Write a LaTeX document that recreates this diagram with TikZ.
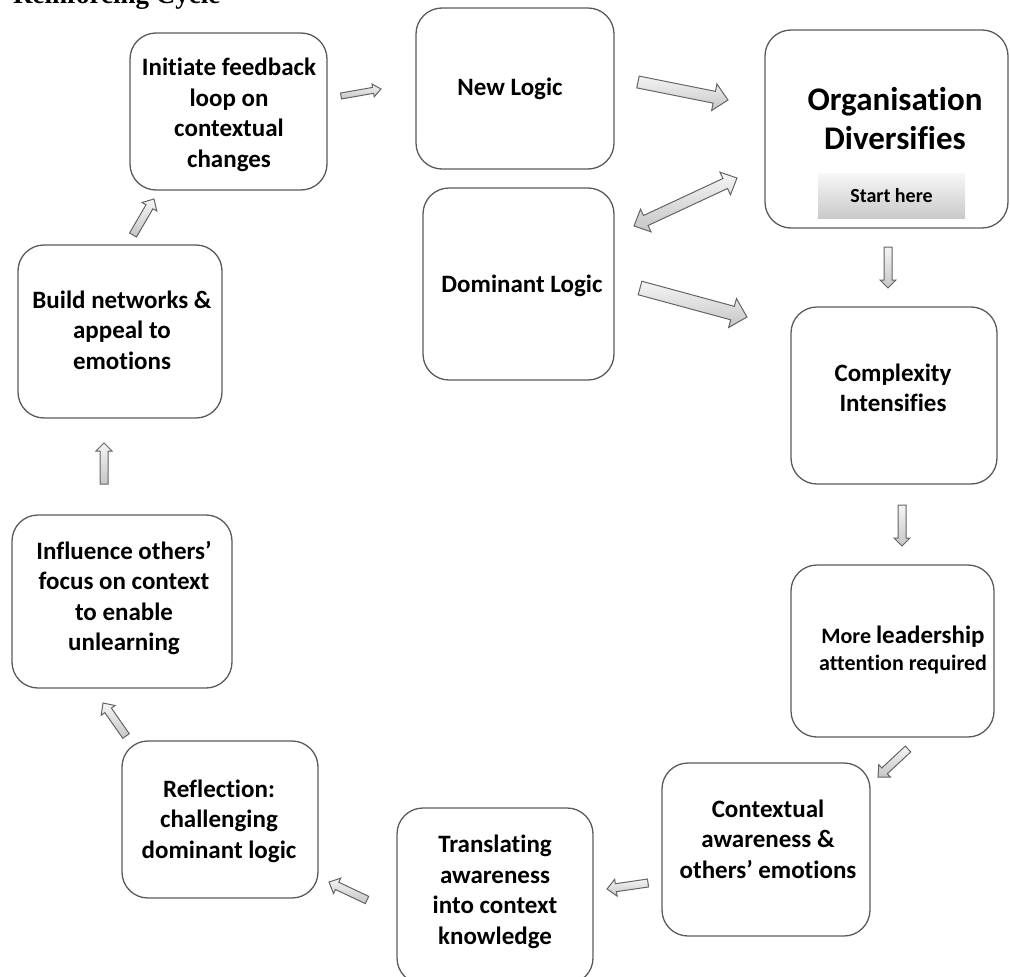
\documentclass[tikz,border=0pt]{standalone}
\usepackage{fontspec}
\setmainfont{Carlito}[Ligatures=CommonOff]
\newfontfamily\titlefont{Liberation Serif}
\usetikzlibrary{calc}
\definecolor{boxline}{HTML}{5A5A5A}
\definecolor{arrline}{HTML}{646464}
\tikzset{
  box/.style={draw=boxline, line width=1.3pt, rounded corners=26pt, align=center,
    font=\fontsize{25}{30.5}\selectfont\bfseries, inner sep=0pt},
  txt/.style={align=center, inner sep=0pt, font=\fontsize{25}{30.5}\selectfont\bfseries},
  barr/.style={draw=arrline, line width=1pt, top color=gray!8, bottom color=gray!45, line join=miter},
}
\newcommand\blockarrow[5]{%
  \coordinate (neck) at ($(#2)!#5!(#1)$);
  \draw[barr] ($(#1)!#3!90:(#2)$) -- ($(neck)!#3!90:(#2)$) -- ($(neck)!#4!90:(#2)$) -- (#2)
    -- ($(neck)!#4!-90:(#2)$) -- ($(neck)!#3!-90:(#2)$) -- ($(#1)!#3!-90:(#2)$) -- cycle;}
\newcommand\doublearrow[5]{%
  \coordinate (neckA) at ($(#1)!#5!(#2)$);
  \coordinate (neckB) at ($(#2)!#5!(#1)$);
  \draw[barr] (#1) -- ($(neckA)!#4!90:(#2)$) -- ($(neckA)!#3!90:(#2)$) -- ($(neckB)!#3!90:(#2)$)
    -- ($(neckB)!#4!90:(#2)$) -- (#2) -- ($(neckB)!#4!-90:(#2)$) -- ($(neckB)!#3!-90:(#2)$)
    -- ($(neckA)!#3!-90:(#2)$) -- ($(neckA)!#4!-90:(#2)$) -- cycle;}
\begin{document}
\begin{tikzpicture}[x=1pt, y=-1pt]
\useasboundingbox (0,0) rectangle (1010,977);

\node[anchor=base west, inner sep=0pt, font=\titlefont\bfseries\fontsize{27}{30}\selectfont] (title) at (13,3) {Reinforcing Cycle};

% boxes
\node[box, minimum width=197pt, minimum height=157pt] (initiate) at (228.5,111.5) {};
\node[txt] (initiatetxt) at (229,115) {Initiate feedback\\loop on\\contextual\\changes};
\node[box, minimum width=198pt, minimum height=161pt] (newlogic) at (515,88.5) {};
\node[txt] (newlogictxt) at (510,89) {New Logic};
\node[box, minimum width=191pt, minimum height=192pt] (dominant) at (518.5,284) {};
\node[txt] (dominanttxt) at (522,286) {Dominant Logic};
\node[box, minimum width=243pt, minimum height=198pt] (org) at (886.5,129) {};
\node[txt, font=\fontsize{33}{39}\selectfont\bfseries] (orgtxt) at (895,119) {Organisation\\Diversifies};
\node[top color=gray!6, bottom color=gray!42, minimum width=147pt, minimum height=45pt, inner sep=0pt,
  font=\fontsize{20}{24}\selectfont\bfseries] (start) at (891.5,195.5) {Start here};
\node[box, minimum width=206pt, minimum height=177pt] (complexity) at (894,395.5) {};
\node[txt] (complexitytxt) at (893,388) {Complexity\\Intensifies};
\node[box, minimum width=203pt, minimum height=172pt] (more) at (892.5,651) {};
\node[txt, font=\fontsize{22}{27}\selectfont\bfseries] (moretxt) at (903,650) {More {\fontsize{25}{27}\selectfont leadership}\\attention required};
\node[box, minimum width=208pt, minimum height=173pt] (context) at (766,849.5) {};
\node[txt] (contexttxt) at (768,839) {Contextual\\awareness \&\\others’ emotions};
\node[box, minimum width=196pt, minimum height=176pt] (translating) at (495,896) {};
\node[txt] (translatingtxt) at (495,892) {Translating\\awareness\\into context\\knowledge};
\node[box, minimum width=196pt, minimum height=157pt] (reflection) at (220,819.5) {};
\node[txt] (reflectiontxt) at (219,821) {Reflection:\\challenging\\dominant logic};
\node[box, minimum width=220pt, minimum height=173pt] (influence) at (122,601.5) {};
\node[txt] (influencetxt) at (124,598) {Influence others’\\focus on context\\to enable\\unlearning};
\node[box, minimum width=204pt, minimum height=173pt] (build) at (120,331.5) {};
\node[txt] (buildtxt) at (122,330) {Build networks \&\\appeal to\\emotions};

% arrow end points
\coordinate (a1s) at (341,96);  \coordinate (a1e) at (381,89);
\coordinate (a2s) at (638,82);  \coordinate (a2e) at (728,100);
\coordinate (a3s) at (634,226); \coordinate (a3e) at (737,178);
\coordinate (a4s) at (640,288); \coordinate (a4e) at (747,317);
\coordinate (a5s) at (888,247); \coordinate (a5e) at (888,288);
\coordinate (a6s) at (902,505); \coordinate (a6e) at (902,546);
\coordinate (a7s) at (908,749); \coordinate (a7e) at (878,777);
\coordinate (a8s) at (648,883); \coordinate (a8e) at (607,889);
\coordinate (a9s) at (367,900); \coordinate (a9e) at (329,882);
\coordinate (a10s) at (126,736); \coordinate (a10e) at (103,703);
\coordinate (a11s) at (104,484); \coordinate (a11e) at (104,443);
\coordinate (a12s) at (133,235); \coordinate (a12e) at (154,199);

\blockarrow{a1s}{a1e}{3pt}{6.5pt}{8pt}
\blockarrow{a2s}{a2e}{6pt}{13.5pt}{14pt}
\doublearrow{a3s}{a3e}{5.5pt}{12.5pt}{13pt}
\blockarrow{a4s}{a4e}{7pt}{15pt}{15pt}
\blockarrow{a5s}{a5e}{4pt}{8pt}{8pt}
\blockarrow{a6s}{a6e}{4pt}{8pt}{8pt}
\blockarrow{a7s}{a7e}{4pt}{8.5pt}{9pt}
\blockarrow{a8s}{a8e}{4pt}{8.5pt}{9pt}
\blockarrow{a9s}{a9e}{4pt}{8.5pt}{9pt}
\blockarrow{a10s}{a10e}{4pt}{8.5pt}{9pt}
\blockarrow{a11s}{a11e}{4pt}{8pt}{8pt}
\blockarrow{a12s}{a12e}{4pt}{8.5pt}{9pt}
\end{tikzpicture}
\end{document}
